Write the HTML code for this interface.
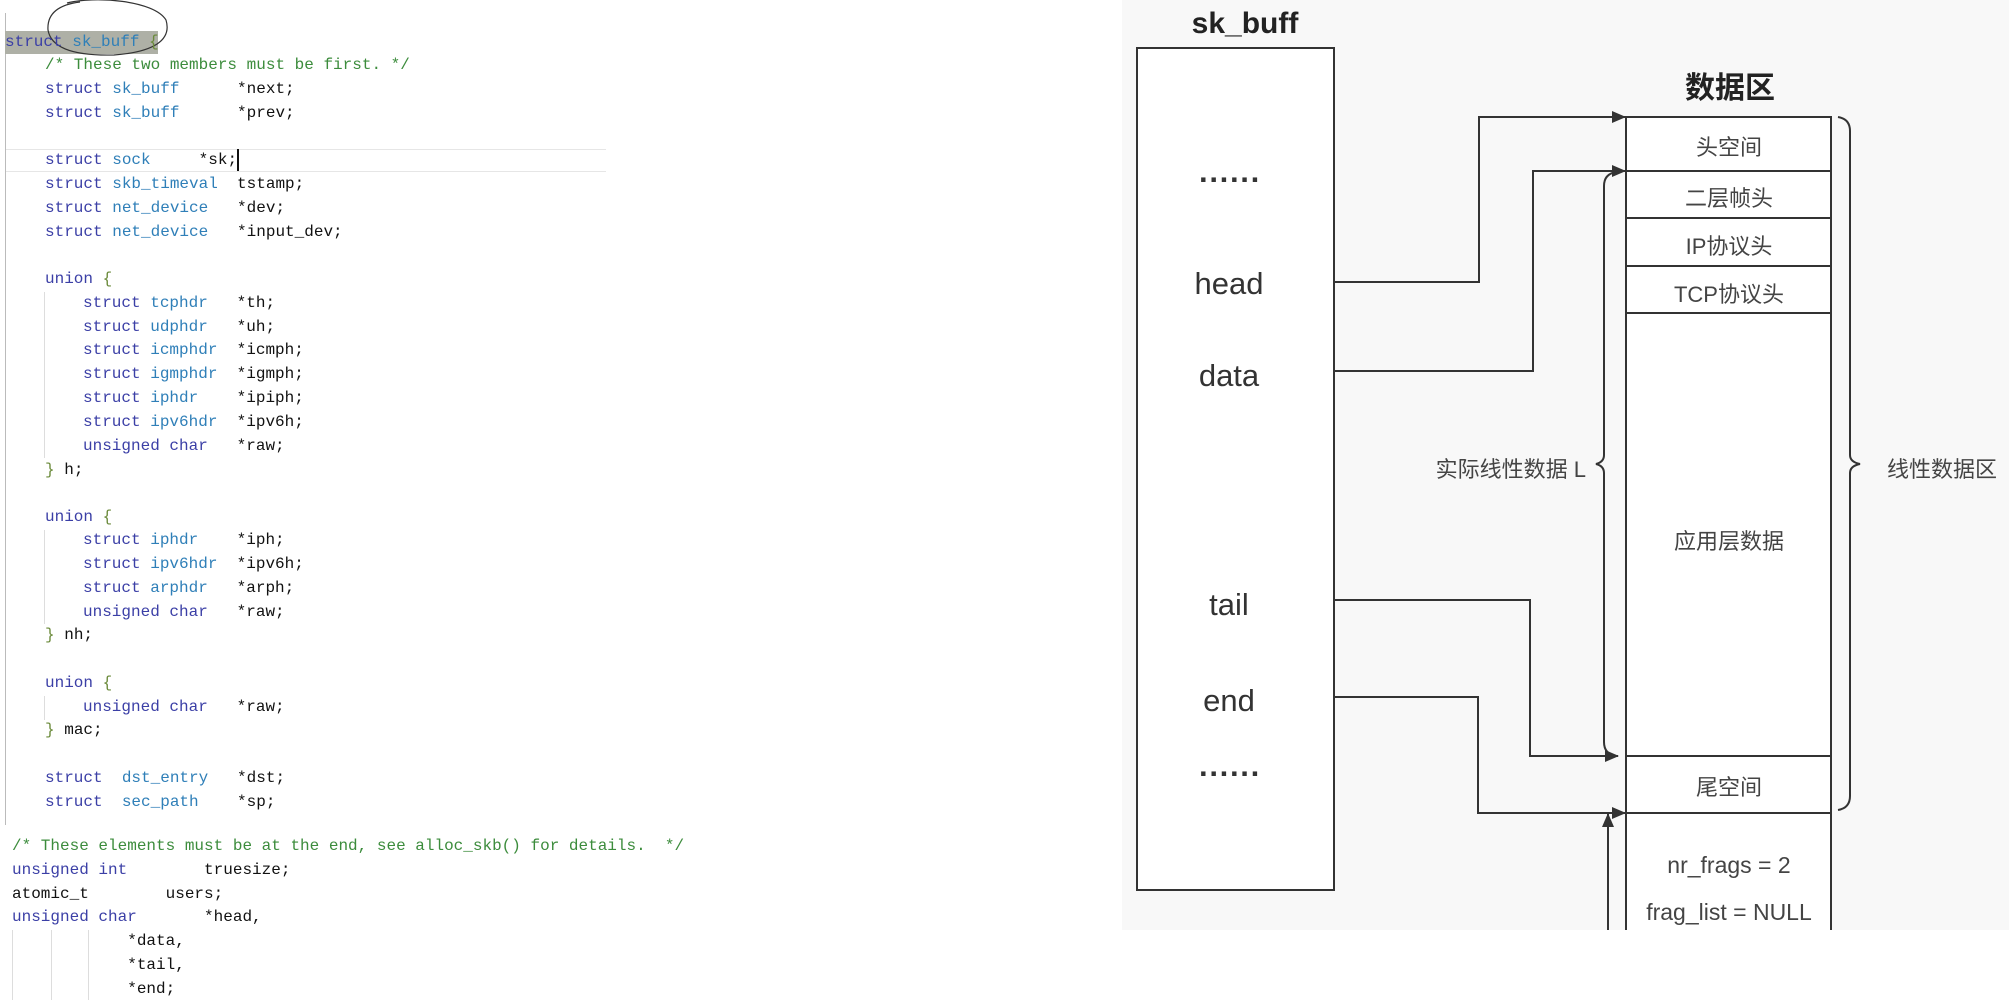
<!DOCTYPE html>
<html><head><meta charset="utf-8"><style>
html,body{margin:0;padding:0;background:#fff;}
body{width:2009px;height:1005px;position:relative;overflow:hidden;}
.c{position:absolute;font-family:"Liberation Mono",monospace;font-size:16px;line-height:20px;white-space:pre;color:#111;}
.k{color:#3b3fa6}.t{color:#2f7fb8}.g{color:#3c8c3c}.b{color:#6a8a3a}
</style></head><body>
<div style="position:absolute;left:5px;top:13px;width:1px;height:812px;background:#bbb"></div>
<div style="position:absolute;left:5px;top:31px;width:153px;height:23px;background:#aeb0a6"></div>
<div style="position:absolute;left:6px;top:149px;width:600px;height:1px;background:#e6e6e6"></div>
<div style="position:absolute;left:6px;top:171px;width:600px;height:1px;background:#e6e6e6"></div>
<div style="position:absolute;left:237px;top:149px;width:2px;height:22px;background:#111"></div>
<div style="position:absolute;left:44px;top:292px;width:1px;height:166px;background:#ddd"></div>
<div style="position:absolute;left:44px;top:530px;width:1px;height:94px;background:#ddd"></div>
<div style="position:absolute;left:44px;top:696px;width:1px;height:24px;background:#ddd"></div>
<div style="position:absolute;left:12px;top:930px;width:1px;height:70px;background:#ddd"></div>
<div style="position:absolute;left:51px;top:930px;width:1px;height:70px;background:#ddd"></div>
<div style="position:absolute;left:88px;top:930px;width:1px;height:70px;background:#ddd"></div>
<svg style="position:absolute;left:0;top:0" width="250" height="70"><path d="M67,3 C94,-4 154,0 166,20 C172,40 154,52 114,55 C74,56 51,48 48,30 C47,15 56,5 80,2" fill="none" stroke="#333" stroke-width="1.2"/></svg>

<div class="c" style="left:5px;top:32px"><span class="k">struct</span> <span class="t">sk_buff</span> <span class="b">{</span></div>
<div class="c" style="left:45px;top:55px"><span class="g">/* These two members must be first. */</span></div>
<div class="c" style="left:45px;top:79px"><span class="k">struct</span> <span class="t">sk_buff</span>      *next;</div>
<div class="c" style="left:45px;top:103px"><span class="k">struct</span> <span class="t">sk_buff</span>      *prev;</div>
<div class="c" style="left:45px;top:150px"><span class="k">struct</span> <span class="t">sock</span>     *sk;</div>
<div class="c" style="left:45px;top:174px"><span class="k">struct</span> <span class="t">skb_timeval</span>  tstamp;</div>
<div class="c" style="left:45px;top:198px"><span class="k">struct</span> <span class="t">net_device</span>   *dev;</div>
<div class="c" style="left:45px;top:222px"><span class="k">struct</span> <span class="t">net_device</span>   *input_dev;</div>
<div class="c" style="left:45px;top:269px"><span class="k">union</span> <span class="b">{</span></div>
<div class="c" style="left:83px;top:293px"><span class="k">struct</span> <span class="t">tcphdr</span>   *th;</div>
<div class="c" style="left:83px;top:317px"><span class="k">struct</span> <span class="t">udphdr</span>   *uh;</div>
<div class="c" style="left:83px;top:340px"><span class="k">struct</span> <span class="t">icmphdr</span>  *icmph;</div>
<div class="c" style="left:83px;top:364px"><span class="k">struct</span> <span class="t">igmphdr</span>  *igmph;</div>
<div class="c" style="left:83px;top:388px"><span class="k">struct</span> <span class="t">iphdr</span>    *ipiph;</div>
<div class="c" style="left:83px;top:412px"><span class="k">struct</span> <span class="t">ipv6hdr</span>  *ipv6h;</div>
<div class="c" style="left:83px;top:436px"><span class="k">unsigned char</span>   *raw;</div>
<div class="c" style="left:45px;top:460px"><span class="b">}</span> h;</div>
<div class="c" style="left:45px;top:507px"><span class="k">union</span> <span class="b">{</span></div>
<div class="c" style="left:83px;top:530px"><span class="k">struct</span> <span class="t">iphdr</span>    *iph;</div>
<div class="c" style="left:83px;top:554px"><span class="k">struct</span> <span class="t">ipv6hdr</span>  *ipv6h;</div>
<div class="c" style="left:83px;top:578px"><span class="k">struct</span> <span class="t">arphdr</span>   *arph;</div>
<div class="c" style="left:83px;top:602px"><span class="k">unsigned char</span>   *raw;</div>
<div class="c" style="left:45px;top:625px"><span class="b">}</span> nh;</div>
<div class="c" style="left:45px;top:673px"><span class="k">union</span> <span class="b">{</span></div>
<div class="c" style="left:83px;top:697px"><span class="k">unsigned char</span>   *raw;</div>
<div class="c" style="left:45px;top:720px"><span class="b">}</span> mac;</div>
<div class="c" style="left:45px;top:768px"><span class="k">struct</span>  <span class="t">dst_entry</span>   *dst;</div>
<div class="c" style="left:45px;top:792px"><span class="k">struct</span>  <span class="t">sec_path</span>    *sp;</div>
<div class="c" style="left:12px;top:836px"><span class="g">/* These elements must be at the end, see alloc_skb() for details.  */</span></div>
<div class="c" style="left:12px;top:860px"><span class="k">unsigned int</span>        truesize;</div>
<div class="c" style="left:12px;top:884px">atomic_t        users;</div>
<div class="c" style="left:12px;top:907px"><span class="k">unsigned char</span>       *head,</div>
<div class="c" style="left:12px;top:931px">            *data,</div>
<div class="c" style="left:12px;top:955px">            *tail,</div>
<div class="c" style="left:12px;top:979px">            *end;</div>

<svg style="position:absolute;left:0;top:0" width="2009" height="1005" xmlns="http://www.w3.org/2000/svg">
<defs><marker id="a" markerWidth="14" markerHeight="12" refX="13" refY="6" orient="auto" markerUnits="userSpaceOnUse"><path d="M0,0 L14,6 L0,12 Z" fill="#333"/></marker></defs>
<rect x="1122" y="0" width="887" height="930" fill="#f8f8f8"/>
<g font-family="Liberation Sans, Noto Sans CJK SC, sans-serif" text-anchor="middle">
<text x="1245" y="33" font-size="30" font-weight="bold" fill="#222">sk_buff</text>
<rect x="1137" y="48" width="197" height="842" fill="#fff" stroke="#333" stroke-width="2"/>
<g font-size="31" fill="#333">
<text x="1230" y="190" font-weight="bold">······</text>
<text x="1229" y="294">head</text>
<text x="1229" y="386">data</text>
<text x="1229" y="615">tail</text>
<text x="1229" y="711">end</text>
<text x="1230" y="784" font-weight="bold">······</text>
</g>
<text x="1730" y="98" font-size="30" font-weight="bold" fill="#222">数据区</text>
<rect x="1626" y="117" width="205" height="830" fill="#fff" stroke="#333" stroke-width="2"/>
<g stroke="#333" stroke-width="2">
<line x1="1626" y1="171" x2="1831" y2="171"/><line x1="1626" y1="218" x2="1831" y2="218"/>
<line x1="1626" y1="266" x2="1831" y2="266"/><line x1="1626" y1="313" x2="1831" y2="313"/>
<line x1="1626" y1="756" x2="1831" y2="756"/><line x1="1626" y1="813" x2="1831" y2="813"/>
</g>
<g font-size="22" fill="#444">
<text x="1729" y="155">头空间</text>
<text x="1729" y="206">二层帧头</text>
<text x="1729" y="254">IP协议头</text>
<text x="1729" y="302">TCP协议头</text>
<text x="1729" y="549">应用层数据</text>
<text x="1729" y="795">尾空间</text>
<text x="1729" y="873" font-size="23">nr_frags = 2</text>
<text x="1729" y="920" font-size="23">frag_list = NULL</text>
</g>
<rect x="1600" y="930" width="240" height="75" fill="#fff"/>
<g fill="none" stroke="#333" stroke-width="2">
<path d="M1334,282 H1479 V117 H1625" marker-end="url(#a)"/>
<path d="M1334,371 H1533 V171 H1625" marker-end="url(#a)"/>
<path d="M1334,600 H1530 V756 H1618" marker-end="url(#a)"/>
<path d="M1334,697 H1478 V813 H1625" marker-end="url(#a)"/>
<path d="M1608,930 V814" marker-end="url(#a)"/>
<path d="M1616,172 Q1604,174 1604,186 V455 Q1604,462 1596,464 Q1604,466 1604,473 V742 Q1604,754 1616,756"/>
<path d="M1838,117 Q1850,119 1850,131 V455 Q1850,462 1860,464 Q1850,466 1850,473 V796 Q1850,808 1838,810"/>
</g>
<text x="1586" y="477" font-size="22" fill="#444" text-anchor="end">实际线性数据 L</text>
<text x="1887" y="477" font-size="22" fill="#444" text-anchor="start">线性数据区</text>
</g>
</svg>
</body></html>
